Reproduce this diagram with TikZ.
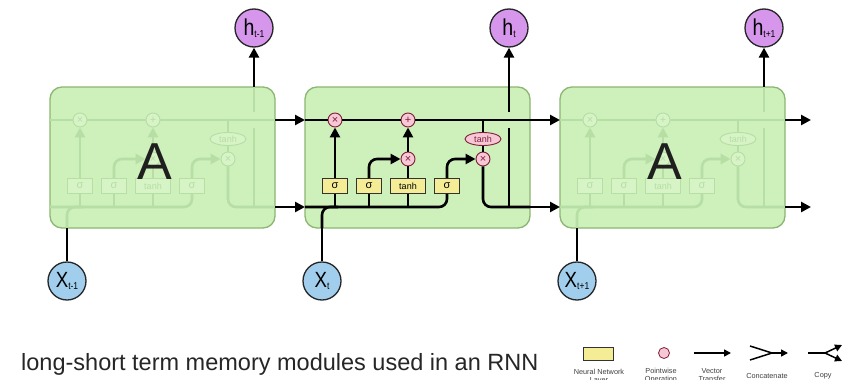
\documentclass[tikz,border=0pt]{standalone}
\usepackage{fontspec}
\setmainfont{Liberation Sans}
\usetikzlibrary{arrows.meta,shapes.geometric}

% palette
\definecolor{cellfill}{RGB}{206,240,186}
\definecolor{celldraw}{RGB}{140,182,115}
\definecolor{layerfillbase}{RGB}{245,236,150}
\definecolor{opfillbase}{RGB}{246,200,214}
\definecolor{opinkbase}{RGB}{130,30,60}
\definecolor{hfill}{RGB}{214,150,236}
\definecolor{xfill}{RGB}{160,206,236}
\definecolor{fadeline}{RGB}{182,222,165}
\definecolor{fadefill}{RGB}{214,244,198}

% colours used by the cell internals (overridden for the faded cells)
\colorlet{wirec}{black}
\colorlet{layerfill}{layerfillbase}
\colorlet{layerdraw}{black!80}
\colorlet{opfill}{opfillbase}
\colorlet{opdraw}{opinkbase}
\colorlet{optext}{opinkbase}
\colorlet{labtext}{black}

\tikzset{
  wire/.style={draw=wirec, line width=2.6pt},
  tip/.style={-{Triangle[length=10pt,width=10pt]}},
  cellbox/.style={draw=celldraw, fill=cellfill, line width=1.3pt, rounded corners=12pt,
    minimum width=225pt, minimum height=141pt, inner sep=0pt},
  layerbox/.style={draw=layerdraw, fill=layerfill, line width=0.9pt, minimum height=15pt,
    minimum width=25pt, inner sep=0pt, text=labtext, font=\fontsize{11}{11}\selectfont},
  opnode/.style={circle, draw=opdraw, fill=opfill, line width=0.9pt, minimum size=14pt,
    inner sep=0pt, text=optext, font=\fontsize{11}{11}\selectfont},
  opoval/.style={ellipse, draw=opdraw, fill=opfill, line width=0.9pt, minimum width=36pt,
    minimum height=13pt, inner sep=0pt, text=optext, font=\fontsize{9}{9}\selectfont},
  hnode/.style={circle, draw=black!85, fill=hfill, line width=1.3pt, minimum size=38pt, inner sep=0pt},
  xnode/.style={circle, draw=black!85, fill=xfill, line width=1.3pt, minimum size=38pt, inner sep=0pt},
  bigA/.style={font=\fontsize{52}{52}\selectfont, text=black!88, inner sep=0pt},
  legendtext/.style={font=\fontsize{7.3}{8.5}\selectfont, align=center, text=black!75, inner sep=0pt},
  legendline/.style={draw=black, line width=1.5pt},
  legendtip/.style={-{Triangle[length=7pt,width=7pt]}},
}

\newcommand\hlab[1]{\scalebox{0.85}[1]{{\fontsize{23}{23}\selectfont h}\raisebox{-1.5pt}{\fontsize{10}{10}\selectfont #1}}}
\newcommand\xlab[1]{\scalebox{0.85}[1]{{\fontsize{22}{22}\selectfont X}\raisebox{-1.5pt}{\fontsize{10}{10}\selectfont #1}}}

% one LSTM cell, drawn in the frame of the centre cell
\newcommand\lstmparts{%
  \node[cellbox] (box) at (417.5,157.5) {};
  \coordinate (inT) at (305,120);
  \coordinate (inB) at (305,207);
  \coordinate (outT) at (530,120);
  \coordinate (outB) at (530,207);
  \coordinate (brT) at (483,120);
  \coordinate (hJ) at (509,207);
  \coordinate (hLo) at (509,128);
  \coordinate (hHi) at (509,112);
  \coordinate (hEdge) at (509,87);
  \coordinate (xEdge) at (322,228);
  \coordinate (xJ) at (338,207);
  \node[opnode] (mul1) at (335,120) {×};
  \node[opnode] (add) at (408,120) {+};
  \node[opnode] (mul2) at (408,159) {×};
  \node[opnode] (mul3) at (483,159) {×};
  \node[opoval] (tanhC) at (483,139) {tanh};
  \node[layerbox] (sig1) at (335,186) {σ};
  \node[layerbox] (sig2) at (369,186) {σ};
  \node[layerbox, minimum width=35pt, font=\fontsize{9}{9}\selectfont] (tanhL) at (408,186) {tanh};
  \node[layerbox] (sig3) at (447,186) {σ};
  % cell state
  \draw[wire] (inT) -- (mul1) -- (add) -- (outT);
  % previous output and input feeding the layers
  \draw[wire, rounded corners=8pt] (inB) -| (sig3);
  \draw[wire, rounded corners=8pt] (xEdge) |- (xJ);
  \draw[wire] (sig1 |- inB) -- (sig1);
  \draw[wire] (sig2 |- inB) -- (sig2);
  \draw[wire] (tanhL |- inB) -- (tanhL);
  % gates
  \draw[wire, tip] (sig1) -- (mul1);
  \draw[wire, tip, rounded corners=8pt] (sig2) |- (mul2);
  \draw[wire] (tanhL) -- (mul2);
  \draw[wire, tip] (mul2) -- (add);
  \draw[wire, tip, rounded corners=8pt] (sig3) |- (mul3);
  \draw[wire] (brT) -- (tanhC);
  \draw[wire] (tanhC) -- (mul3);
  \draw[wire, rounded corners=8pt] (mul3) |- (outB);
  % output branch, broken where it passes the cell state
  \draw[wire] (hJ) -- (hLo);
  \draw[wire] (hHi) -- (hEdge);
}

\newcommand\fadecolours{%
  \colorlet{wirec}{fadeline}%
  \colorlet{layerfill}{fadefill}%
  \colorlet{layerdraw}{fadeline}%
  \colorlet{opfill}{fadefill}%
  \colorlet{opdraw}{fadeline}%
  \colorlet{optext}{fadeline}%
  \colorlet{labtext}{fadeline}%
}

\begin{document}
\begin{tikzpicture}[x=1pt, y=-1pt]
  \useasboundingbox (0,0) rectangle (843,380);
  \clip (0,0) rectangle (843,380);
  \fill[white] (0,0) rectangle (843,380);

  % left cell (faded)
  \begin{scope}[name prefix=L-, xshift=-255pt]
    \fadecolours
    \lstmparts
  \end{scope}
  % centre cell
  \begin{scope}[name prefix=M-]
    \lstmparts
  \end{scope}
  % right cell (faded)
  \begin{scope}[name prefix=R-, xshift=255pt]
    \fadecolours
    \lstmparts
  \end{scope}

  \node[bigA] (LA) at (155,162) {A};
  \node[bigA] (RA) at (665,162) {A};

  % outputs
  \node[hnode] (h1) at (254,28) {\hlab{t-1}};
  \node[hnode] (h2) at (509,28) {\hlab{t}};
  \node[hnode] (h3) at (764,28) {\hlab{t+1}};
  % inputs
  \node[xnode] (x1) at (67,281) {\xlab{t-1}};
  \node[xnode] (x2) at (322,281) {\xlab{t}};
  \node[xnode] (x3) at (577,281) {\xlab{t+1}};

  \coordinate (endT) at (811,120);
  \coordinate (endB) at (811,207);

  \draw[wire] (x1) -- (L-xEdge);
  \draw[wire] (x2) -- (M-xEdge);
  \draw[wire] (x3) -- (R-xEdge);
  \draw[wire, tip] (L-hEdge) -- (h1);
  \draw[wire, tip] (M-hEdge) -- (h2);
  \draw[wire, tip] (R-hEdge) -- (h3);
  \draw[wire, tip] (L-outT) -- (M-inT);
  \draw[wire, tip] (L-outB) -- (M-inB);
  \draw[wire, tip] (M-outT) -- (R-inT);
  \draw[wire, tip] (M-outB) -- (R-inB);
  \draw[wire, tip] (R-outT) -- (endT);
  \draw[wire, tip] (R-outB) -- (endB);

  % caption
  \node[anchor=base west, font=\fontsize{23.5}{23.5}\selectfont, text=black!85, inner sep=0pt] (caption)
    at (21,370) {long-short term memory modules used in an RNN};

  % legend
  \node[layerbox, minimum width=30pt, minimum height=13pt, line width=0.8pt] (lgLayer) at (598,354) {};
  \node[opnode, minimum size=11pt, line width=0.8pt] (lgOp) at (664,353) {};
  \coordinate (vA) at (694,353);
  \coordinate (vB) at (731,353);
  \draw[legendline, legendtip] (vA) -- (vB);
  \coordinate (cA1) at (750,346);
  \coordinate (cA2) at (750,360);
  \coordinate (cM) at (772,353);
  \coordinate (cB) at (788,353);
  \draw[legendline, line join=round] (cA1) -- (cM) -- (cA2);
  \draw[legendline, legendtip] (cM) -- (cB);
  \coordinate (pA) at (808,353);
  \coordinate (pM) at (825,353);
  \coordinate (pB1) at (842,345);
  \coordinate (pB2) at (842,361);
  \draw[legendline] (pA) -- (pM);
  \draw[legendline, legendtip] (pM) -- (pB1);
  \draw[legendline, legendtip] (pM) -- (pB2);

  \node[legendtext, anchor=north] (lgT1) at (599,369) {Neural Network\\Layer};
  \node[legendtext, anchor=north] (lgT2) at (661,368) {Pointwise\\Operation};
  \node[legendtext, anchor=north] (lgT3) at (712,368) {Vector\\Transfer};
  \node[legendtext] (lgT4) at (767,376) {Concatenate};
  \node[legendtext] (lgT5) at (823,376) {Copy};
\end{tikzpicture}
\end{document}
